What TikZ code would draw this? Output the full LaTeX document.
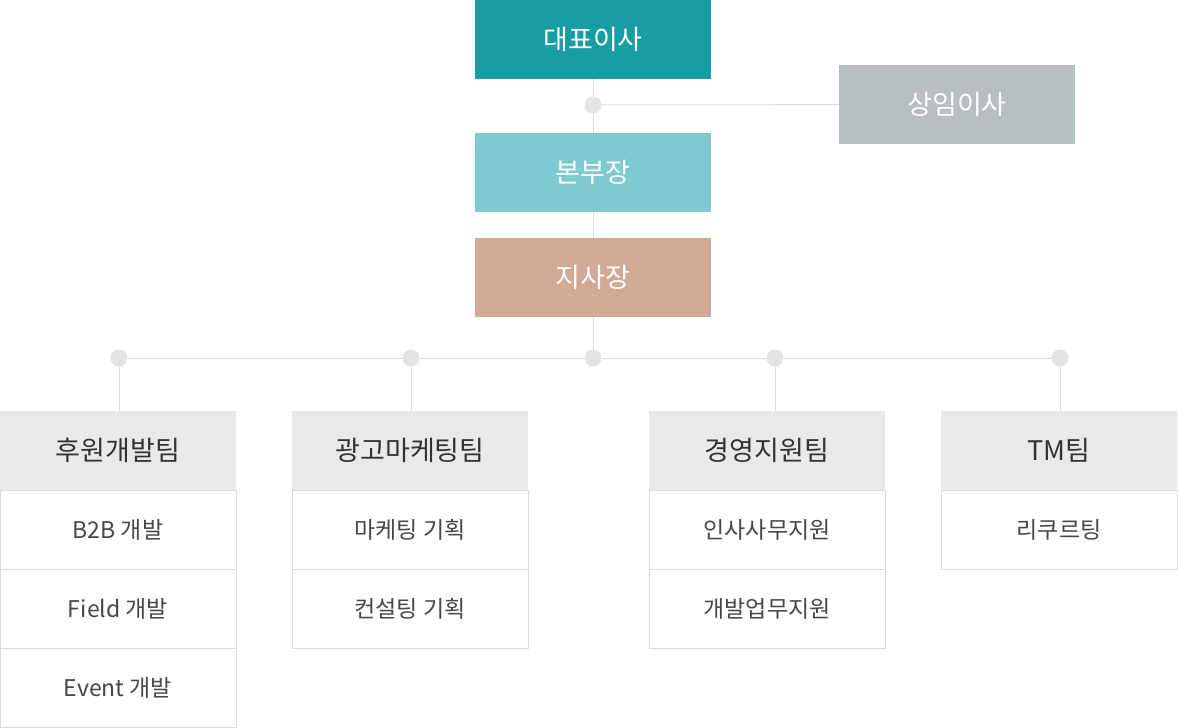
\documentclass[tikz,border=0pt]{standalone}
\usepackage{fontspec}
\setmainfont{Noto Sans CJK KR}
\usepackage{xcolor}
\usetikzlibrary{positioning}
\definecolor{ceo}{HTML}{189DA7}
\definecolor{vp}{HTML}{B8BFC1}
\definecolor{hq}{HTML}{7DCBD1}
\definecolor{br}{HTML}{D1A995}
\definecolor{hd}{HTML}{E9E9E9}
\definecolor{ln}{HTML}{DCDCDC}
\definecolor{dt}{HTML}{E3E3E3}
\definecolor{tx}{HTML}{333333}
\tikzset{box/.style={minimum width=236pt,minimum height=79pt,inner sep=0pt,outer sep=0pt,text=white,font=\fontsize{27}{30}\selectfont},
  head/.style={box,fill=hd,text=tx},
  cell/.style={box,fill=white,draw=ln,line width=1pt,text=tx!90,font=\fontsize{23}{26}\selectfont},
  dot/.style={circle,fill=dt,minimum size=17pt,inner sep=0pt,outer sep=0pt},
  link/.style={draw=ln,line width=1pt}}

\begin{document}
\begin{tikzpicture}[x=1pt,y=-1pt]
    \useasboundingbox (0,0) rectangle (1178,728);

    \node[box,fill=ceo] (a) at (593,39.5) {대표이사};
    \node[box,fill=vp] (s) at (957,104.5) {상임이사};
    \node[box,fill=hq] (c) at (593,172.5) {본부장};
    \node[box,fill=br] (d) at (593,277.5) {지사장};

    \node[dot] (p) at (593,105) {};
    \node[dot] (q1) at (119,358) {};
    \node[dot] (q2) at (411,358) {};
    \node[dot] (q3) at (593,358) {};
    \node[dot] (q4) at (775,358) {};
    \node[dot] (q5) at (1060,358) {};

    \node[head] (e) at (118,450.5) {후원개발팀};
    \node[cell] (e1) [below=0pt of e] {B2B 개발};
    \node[cell] (e2) [below=0pt of e1] {Field 개발};
    \node[cell] (e3) [below=0pt of e2] {Event 개발};

    \node[head] (f) at (410,450.5) {광고마케팅팀};
    \node[cell] (f1) [below=0pt of f] {마케팅 기획};
    \node[cell] (f2) [below=0pt of f1] {컨설팅 기획};

    \node[head] (g) at (767,450.5) {경영지원팀};
    \node[cell] (g1) [below=0pt of g] {인사사무지원};
    \node[cell] (g2) [below=0pt of g1] {개발업무지원};

    \node[head] (h) at (1059,450.5) {TM팀};
    \node[cell] (h1) [below=0pt of h] {리쿠르팅};

    \draw [link] (a) to (p);
    \draw [link] (p) to (c);
    \draw [link] (p) to (s);
    \draw [link] (c) to (d);
    \draw [link] (d) to (q3);
    \draw [link] (q1) to (q2);
    \draw [link] (q2) to (q3);
    \draw [link] (q3) to (q4);
    \draw [link] (q4) to (q5);
    \draw [link] (q1) to (q1 |- e.north);
    \draw [link] (q2) to (q2 |- f.north);
    \draw [link] (q4) to (q4 |- g.north);
    \draw [link] (q5) to (q5 |- h.north);
\end{tikzpicture}
\end{document}
